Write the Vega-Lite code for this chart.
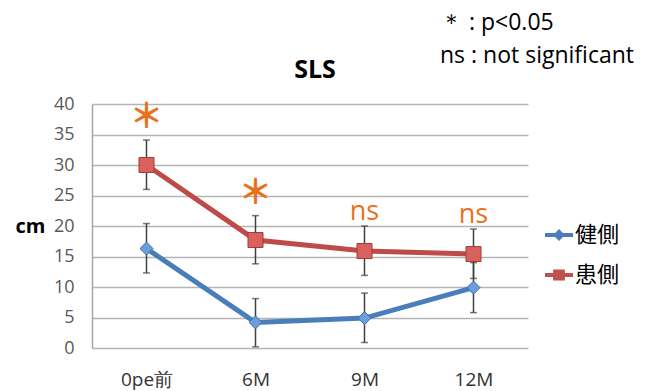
{
  "$schema": "https://vega.github.io/schema/vega-lite/v6.json",
  "width": 436,
  "height": 244,
  "autosize": "none",
  "padding": {"left": 92, "top": 104, "right": 117, "bottom": 43},
  "background": "white",
  "config": {"view": {"stroke": null}, "font": "Open Sans"},
  "title": {
    "text": "SLS",
    "anchor": "middle", "frame": "group", "dx": 5, "dy": 103, "baseline": "alphabetic", "offset": 12,
    "fontSize": 25, "fontWeight": "bold", "font": "Open Sans", "color": "black"
  },
  "data": {
    "values": [
      {"t": "0pe前", "g": "健側", "v": 16.3, "lo": 12.3, "hi": 20.4, "sig": ""},
      {"t": "6M", "g": "健側", "v": 4.2, "lo": 0.2, "hi": 8.1, "sig": ""},
      {"t": "9M", "g": "健側", "v": 4.9, "lo": 0.9, "hi": 9.0, "sig": ""},
      {"t": "12M", "g": "健側", "v": 9.9, "lo": 5.8, "hi": 14.0, "sig": ""},
      {"t": "0pe前", "g": "患側", "v": 30.0, "lo": 26.0, "hi": 34.1, "sig": "*"},
      {"t": "6M", "g": "患側", "v": 17.7, "lo": 13.8, "hi": 21.7, "sig": "*"},
      {"t": "9M", "g": "患側", "v": 15.9, "lo": 11.9, "hi": 20.0, "sig": "ns"},
      {"t": "12M", "g": "患側", "v": 15.4, "lo": 11.4, "hi": 19.5, "sig": "ns"}
    ]
  },
  "encoding": {
    "x": {
      "field": "t", "type": "ordinal", "sort": ["0pe前", "6M", "9M", "12M"],
      "scale": {"type": "point", "padding": 0.5},
      "axis": {
        "orient": "bottom", "title": null, "labelAngle": 0, "ticks": false, "domain": false, "grid": false,
        "labelFontSize": 19, "labelFont": "Open Sans", "labelColor": "#333333", "labelPadding": 22
      }
    }
  },
  "layer": [
    {
      "mark": {"type": "rule", "color": "#404040", "strokeWidth": 1.5},
      "encoding": {
        "y": {
          "field": "lo", "type": "quantitative", "scale": {"domain": [0, 40]},
          "axis": {
            "title": "cm", "titleAngle": 0, "titleFontSize": 20, "titleFontWeight": "bold", "titleColor": "black",
            "titleFont": "Open Sans", "titleX": -47, "titleY": 122, "titleAlign": "right", "titleBaseline": "middle",
            "values": [0, 5, 10, 15, 20, 25, 30, 35, 40], "tickCount": 9, "ticks": false, "labelPadding": 18,
            "labelFontSize": 18, "labelColor": "#595959", "labelFont": "Open Sans", "labelOverlap": false,
            "domainColor": "#A6A6A6", "domainWidth": 1.5, "gridColor": "#B5B5B5", "gridWidth": 1.5
          }
        },
        "y2": {"field": "hi"}
      }
    },
    {
      "mark": {"type": "tick", "orient": "horizontal", "size": 7, "thickness": 1.5, "color": "#404040"},
      "encoding": {"y": {"field": "lo", "type": "quantitative"}}
    },
    {
      "mark": {"type": "tick", "orient": "horizontal", "size": 7, "thickness": 1.5, "color": "#404040"},
      "encoding": {"y": {"field": "hi", "type": "quantitative"}}
    },
    {
      "mark": {"type": "line", "strokeWidth": 5},
      "encoding": {
        "y": {"field": "v", "type": "quantitative"},
        "color": {
          "field": "g", "type": "nominal",
          "scale": {"domain": ["健側", "患側"], "range": ["#4A7EBB", "#BE4B48"]},
          "legend": {
            "orient": "none", "legendX": 348, "legendY": -92, "direction": "vertical",
            "title": ["＊ : p<0.05", "ns : not significant"],
            "titleFontSize": 23, "titleFont": "Open Sans", "titleFontWeight": "normal", "titleColor": "black",
            "titleLineHeight": 33, "titleLimit": 400, "titleAnchor": "start", "titleAlign": "left",
            "titleBaseline": "top", "titlePadding": 153,
            "symbolOffset": 105,
            "symbolSize": 784, "labelFontSize": 22, "labelFont": "Noto Sans CJK JP", "labelColor": "black",
            "labelOffset": 2, "rowPadding": 15,
            "encode": {
              "symbols": {
                "update": {
                  "shape": {"signal": "datum.value == '健側' ? 'M-1,-0.14H1V0.14H-1Z M0,-0.42L0.42,0L0,0.42L-0.42,0Z' : 'M-1,-0.14H1V0.14H-1Z M-0.42,-0.4H0.42V0.4H-0.42Z'"},
                  "fill": {"signal": "datum.value == '健側' ? '#4A7EBB' : '#C0504D'"},
                  "stroke": {"value": "transparent"},
                  "strokeWidth": {"value": 0}
                }
              }
            }
          }
        }
      }
    },
    {
      "transform": [{"filter": "datum.g == '健側'"}],
      "mark": {"type": "point", "shape": "diamond", "filled": true, "fill": "#6C9EDC", "stroke": "#3D6CA8", "strokeWidth": 1, "opacity": 1, "size": 170},
      "encoding": {"y": {"field": "v", "type": "quantitative"}}
    },
    {
      "transform": [{"filter": "datum.g == '患側'"}],
      "mark": {"type": "point", "shape": "square", "filled": true, "fill": "#D9615D", "stroke": "#A33B38", "strokeWidth": 1, "opacity": 1, "size": 225},
      "encoding": {"y": {"field": "v", "type": "quantitative"}}
    },
    {
      "transform": [{"filter": "datum.sig == '*'"}],
      "mark": {"type": "text", "text": "＊", "font": "Noto Sans CJK JP", "fontWeight": "bold", "fontSize": 34, "color": "#E9711C", "baseline": "middle", "align": "center", "dy": -22},
      "encoding": {"y": {"field": "hi", "type": "quantitative"}}
    },
    {
      "transform": [{"filter": "datum.sig == 'ns'"}],
      "mark": {"type": "text", "font": "Open Sans", "fontSize": 27, "color": "#E9711C", "baseline": "alphabetic", "align": "center", "dy": -6},
      "encoding": {"y": {"field": "hi", "type": "quantitative"}, "text": {"field": "sig"}}
    }
  ]
}
